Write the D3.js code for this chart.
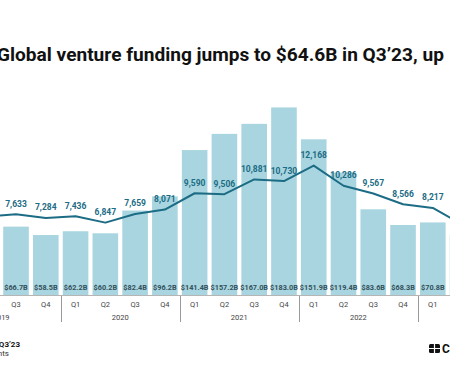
<!DOCTYPE html>
<html>
<head>
<meta charset="utf-8">
<script src="https://cdn.jsdelivr.net/npm/d3@7"></script>
<style>
  html, body { margin: 0; padding: 0; background: #fff; }
  svg { display: block; font-family: Roboto, "Noto Sans", sans-serif; }
</style>
</head>
<body>
<div id="chart"></div>
<script>
// quarters (Q1'19 .. Q2'23), only Q3'19..Q1'23 are fully in view
const years = ["2019", "2020", "2021", "2022", "2023"];
const quarters = ["Q1'19", "Q2'19", "Q3'19", "Q4'19", "Q1'20", "Q2'20", "Q3'20", "Q4'20",
  "Q1'21", "Q2'21", "Q3'21", "Q4'21", "Q1'22", "Q2'22", "Q3'22", "Q4'22", "Q1'23", "Q2'23"];
const fundingB = [62.0, 68.0, 66.7, 58.5, 62.2, 60.2, 82.4, 96.2,
  141.4, 157.2, 167.0, 183.0, 151.9, 119.4, 83.6, 68.3, 70.8, 58.5];
const deals = [7350, 7420, 7633, 7284, 7436, 6847, 7659, 8071,
  9590, 9506, 10881, 10730, 12168, 10286, 9567, 8566, 8217, 6650];

const W = 450, H = 375;
const barColor = "#a8d5df", lineColor = "#1b6c84", barText = "#33505b";

const svg = d3.select("#chart").append("svg")
  .attr("width", W).attr("height", H);

// title (the picture is cropped on both sides)
svg.append("text")
  .attr("x", -3).attr("y", 61)
  .attr("font-size", 19.1).attr("font-weight", 700).attr("fill", "#111")
  .text("Global venture funding jumps to $64.6B in Q3\u201923, up");

const step = 29.77;
const x0 = -58.4;
const x = d3.scaleBand()
  .domain(quarters)
  .range([x0, x0 + step * quarters.length])
  .paddingInner(0.14).paddingOuter(0.07);

const yBar = d3.scaleLinear().domain([0, 200]).range([295, 90]);
const yDeal = d3.scaleLinear().domain([0, 14000]).range([296, 146]);

const data = quarters.map((q, i) => ({ q, funding: fundingB[i], deals: deals[i] }));
const cx = d => x(d.q) + x.bandwidth() / 2;
// labels only for quarters whose centre is inside the crop
const shown = data.filter(d => cx(d) > 0 && cx(d) < W);

// bars
svg.append("g").selectAll("rect")
  .data(data).join("rect")
  .attr("x", d => x(d.q))
  .attr("y", d => yBar(d.funding))
  .attr("width", x.bandwidth())
  .attr("height", d => yBar(0) - yBar(d.funding))
  .attr("fill", barColor);

// funding labels
svg.append("g").selectAll("text")
  .data(shown).join("text")
  .attr("x", cx)
  .attr("y", 290)
  .attr("text-anchor", "middle")
  .attr("font-size", 7.3).attr("font-weight", 700).attr("fill", barText)
  .text(d => "$" + d.funding.toFixed(1) + "B");

// axis baseline
svg.append("line")
  .attr("x1", 0).attr("x2", W)
  .attr("y1", 295.5).attr("y2", 295.5)
  .attr("stroke", "#b5b5b5").attr("stroke-width", 1);

// quarter labels
svg.append("g").selectAll("text")
  .data(shown).join("text")
  .attr("x", cx)
  .attr("y", 307)
  .attr("text-anchor", "middle")
  .attr("font-size", 7.5).attr("fill", "#444")
  .text(d => d.q.slice(0, 2));

// year separators and labels
const yearStart = i => x0 + step * 4 * i;
svg.append("g").selectAll("line")
  .data(years.slice(1)).join("line")
  .attr("x1", (d, i) => Math.round(yearStart(i + 1)) + 0.5)
  .attr("x2", (d, i) => Math.round(yearStart(i + 1)) + 0.5)
  .attr("y1", 296).attr("y2", 322)
  .attr("stroke", "#9a9a9a").attr("stroke-width", 1);

svg.append("g").selectAll("text")
  .data(years.slice(0, 4)).join("text")
  .attr("x", (d, i) => yearStart(i) + step * 2)
  .attr("y", 320)
  .attr("text-anchor", "middle")
  .attr("font-size", 7.5).attr("fill", "#444")
  .text(d => d);

// deals line
const line = d3.line()
  .x(cx)
  .y(d => yDeal(d.deals));

svg.append("path")
  .datum(data)
  .attr("d", line)
  .attr("fill", "none")
  .attr("stroke", lineColor)
  .attr("stroke-width", 2)
  .attr("stroke-linejoin", "round");

svg.append("g").selectAll("text")
  .data(shown).join("text")
  .attr("x", cx)
  .attr("y", d => yDeal(d.deals) - 7.5)
  .attr("text-anchor", "middle")
  .attr("font-size", 8.5).attr("font-weight", 700).attr("fill", lineColor)
  .text(d => d3.format(",")(d.deals));

// footer (cropped on the left)
svg.append("text")
  .attr("x", 20).attr("y", 347)
  .attr("text-anchor", "end")
  .attr("font-size", 8).attr("font-weight", 700).attr("fill", "#111")
  .text("State of Venture Q3\u201923");
svg.append("text")
  .attr("x", 9).attr("y", 356)
  .attr("text-anchor", "end")
  .attr("font-size", 8).attr("fill", "#333")
  .text("Deals & investments");

// logo, cut at the right edge
const logo = svg.append("g").attr("transform", "translate(429,344)");
logo.append("rect")
  .attr("width", 11).attr("height", 9).attr("rx", 1.5)
  .attr("fill", "#111");
logo.append("path")
  .attr("d", "M0,4.5H11M5.5,0V9")
  .attr("stroke", "#fff").attr("stroke-width", 1.2);
logo.append("text")
  .attr("x", 13).attr("y", 9)
  .attr("font-size", 12).attr("font-weight", 700).attr("fill", "#111")
  .text("CB");
</script>
</body>
</html>
